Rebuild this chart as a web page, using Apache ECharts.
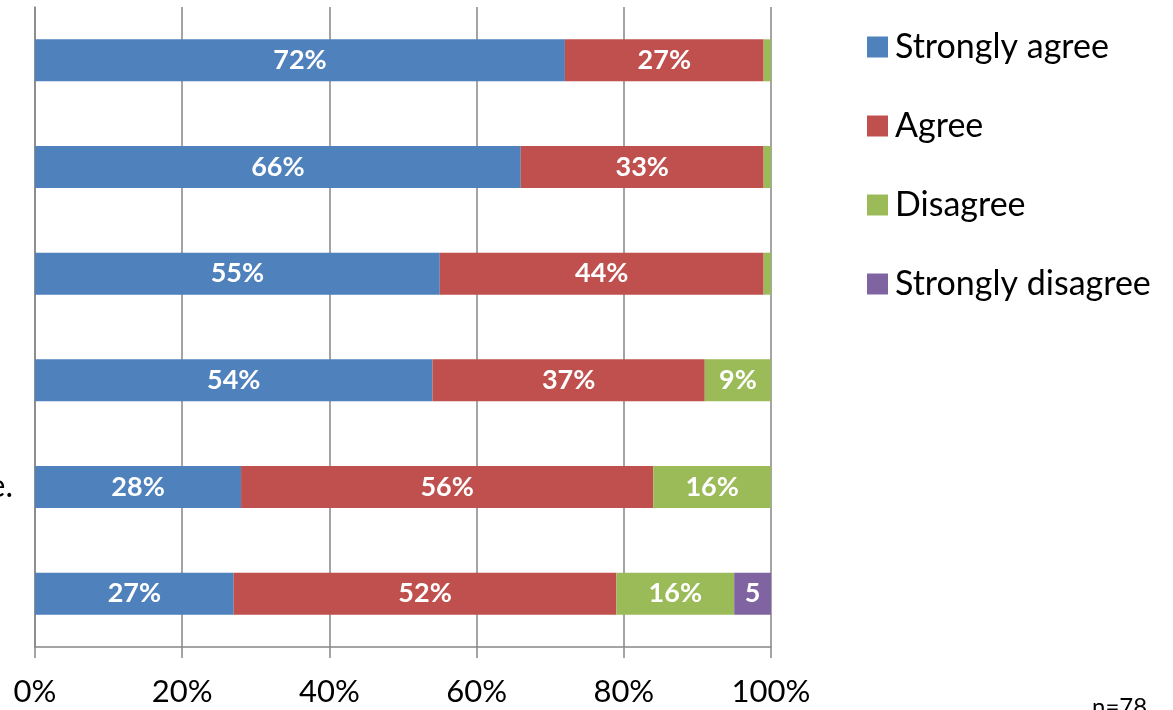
<!DOCTYPE html>
<html>
<head>
<meta charset="utf-8">
<script src="https://cdn.jsdelivr.net/npm/echarts@6/dist/echarts.min.js"></script>
<style>html,body{margin:0;padding:0;background:#fff}#c{width:1173px;height:710px}</style>
</head>
<body>
<div id="c"></div>
<script>
var categories = ['', ' ', '  ', '   ', 'e.', '    '];
var seriesNames = ['Strongly agree', 'Agree', 'Disagree', 'Strongly disagree'];
var stronglyAgree = [72, 66, 55, 54, 28, 27];
var agree = [27, 33, 44, 37, 56, 52];
var disagree = [1, 1, 1, 9, 16, 16];
var stronglyDisagree = [0, 0, 0, 0, 0, 5];
var xTicks = [0, 20, 40, 60, 80, 100];
var note = 'n=78';

var colors = ['#4F81BD', '#C0504D', '#9BBB59', '#8064A2'];
var FONT = 'Lato, "Open Sans", sans-serif';
var values = [stronglyAgree, agree, disagree, stronglyDisagree];

var chart = echarts.init(document.getElementById('c'));
var series = seriesNames.map(function (name, i) {
  return {
    name: name,
    type: 'bar',
    stack: 'total',
    barWidth: 42,
    data: values[i],
    itemStyle: { color: colors[i] },
    label: {
      show: true,
      position: 'inside',
      color: '#fff',
      fontFamily: FONT,
      fontWeight: 'bold',
      fontSize: 27,
      width: i === 3 ? 30 : undefined,
      overflow: i === 3 ? 'truncate' : 'none',
      ellipsis: '',
      formatter: function (p) { return p.value >= 5 ? p.value + '%' : ''; }
    }
  };
});

chart.setOption({
  animation: false,
  color: colors,
  grid: { left: 35, right: 402, top: 7, bottom: 63, containLabel: false, outerBoundsMode: 'none' },
  legend: {
    orient: 'vertical',
    left: 862,
    top: 25,
    itemWidth: 21,
    itemHeight: 21,
    itemGap: 45,
    icon: 'rect',
    textStyle: { fontFamily: FONT, fontSize: 34, color: '#000', padding: [0, 0, 0, 2] },
    data: seriesNames
  },
  xAxis: {
    type: 'value',
    min: xTicks[0],
    max: xTicks[xTicks.length - 1],
    interval: 20,
    axisLine: { show: true, lineStyle: { color: '#868686', width: 1.5 } },
    axisTick: { show: true, length: 11, lineStyle: { color: '#868686', width: 1.5 } },
    splitLine: { show: true, lineStyle: { color: '#868686', width: 1.5 } },
    axisLabel: { formatter: '{value}%', fontFamily: FONT, fontSize: 31, color: '#000', margin: 29 }
  },
  yAxis: {
    type: 'category',
    inverse: true,
    data: categories,
    axisLine: { show: true, lineStyle: { color: '#868686', width: 1.5 } },
    axisTick: { show: false },
    axisLabel: { fontFamily: FONT, fontSize: 32, color: '#000', margin: 22 }
  },
  graphic: [{
    type: 'text',
    left: 1092,
    top: 695,
    style: { text: note, font: '24px ' + FONT, fill: '#000' }
  }],
  series: series
});
</script>
</body>
</html>
